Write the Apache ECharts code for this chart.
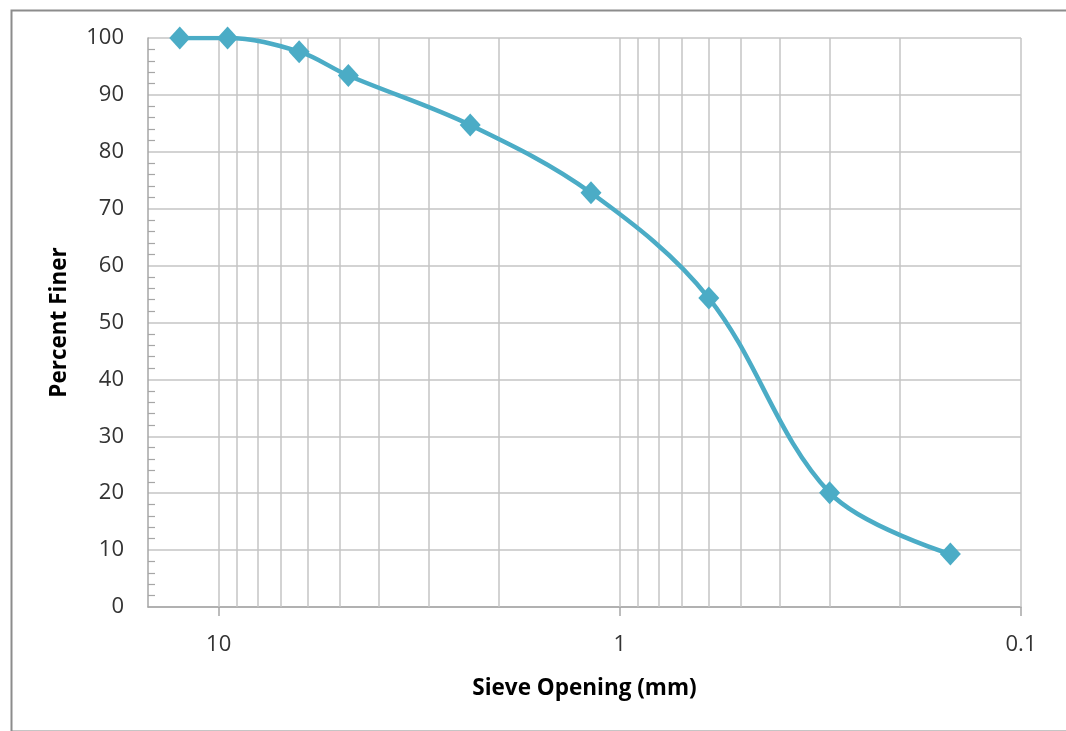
<!DOCTYPE html>
<html>
<head>
<meta charset="utf-8">
<script src="https://cdn.jsdelivr.net/npm/echarts@6/dist/echarts.min.js"></script>
<style>
html,body{margin:0;padding:0;background:#fff;}
#chart{width:1066px;height:731px;}
</style>
</head>
<body>
<div id="chart"></div>
<script>
// Sieve opening (mm) and percent finer
const sieveSizes = [12.5, 9.5, 6.3, 4.75, 2.36, 1.18, 0.6, 0.3, 0.15];
const percentFiner = [100, 100, 97.6, 93.4, 84.7, 72.8, 54.3, 20.1, 9.3];
const xMajorTicks = [0.1, 1, 10];
const xGridValues = [0.1,0.2,0.3,0.4,0.5,0.6,0.7,0.8,0.9,1,2,3,4,5,6,7,8,9,10];
const yTickLabels = [0,10,20,30,40,50,60,70,80,90,100];

const chart = echarts.init(document.getElementById('chart'));
const font = '"Open Sans", "Noto Sans", sans-serif';
const gridColor = '#c4c4c4';
const axisColor = '#a6a6a6';

chart.setOption({
  animation: false,
  backgroundColor: '#fff',
  graphic: [{
    type: 'rect', left: 9, top: 8, silent: true,
    shape: {width: 1080, height: 721},
    style: {fill: 'none', stroke: '#8c8c8c', lineWidth: 2}
  }],
  grid: {left: 148, right: 45, top: 38, bottom: 124, containLabel: false},
  xAxis: {
    type: 'log', logBase: 10, min: 0.1, max: 15, inverse: true,
    name: 'Sieve Opening (mm)', nameLocation: 'middle', nameGap: 70,
    nameTextStyle: {fontFamily: font, fontSize: 22.5, fontWeight: 'bold', color: '#000'},
    axisLine: {show: true, onZero: false, lineStyle: {color: axisColor, width: 1.5}},
    axisTick: {show: true, length: 9, customValues: xMajorTicks, lineStyle: {color: axisColor, width: 1.5}},
    axisLabel: {show: true, customValues: xMajorTicks, margin: 27, fontFamily: font, fontSize: 22, color: '#333',
      formatter: v => String(+v.toPrecision(6))},
    splitLine: {show: false},
    minorTick: {show: false}, minorSplitLine: {show: false}
  },
  yAxis: {
    type: 'value', min: 0, max: 100, interval: 10,
    name: 'Percent Finer', nameLocation: 'middle', nameGap: 77, nameRotate: 90,
    nameTextStyle: {fontFamily: font, fontSize: 22.5, fontWeight: 'bold', color: '#000'},
    axisLine: {show: true, lineStyle: {color: axisColor, width: 1.5}},
    axisTick: {show: false},
    minorTick: {show: true, splitNumber: 5, length: -7, lineStyle: {color: axisColor, width: 1.2}},
    axisLabel: {margin: 24, fontFamily: font, fontSize: 22, color: '#333',
      formatter: v => yTickLabels.indexOf(v) >= 0 ? String(v) : ''},
    splitLine: {show: true, lineStyle: {color: gridColor, width: 1.5}}
  },
  series: [
    {
      type: 'scatter', data: [], z: 1, silent: true,
      markLine: {
        silent: true, symbol: ['none', 'none'], animation: false,
        label: {show: false},
        lineStyle: {color: gridColor, width: 1.5, type: 'solid'},
        emphasis: {disabled: true},
        data: xGridValues.map(v => ({xAxis: v}))
      }
    },
    {
      type: 'line', z: 5,
      data: sieveSizes.map((s, i) => [s, percentFiner[i]]),
      smooth: 0.35,
      symbol: 'diamond', symbolSize: [21, 23],
      itemStyle: {color: '#4BACC6'},
      lineStyle: {color: '#4BACC6', width: 4.5}
    }
  ]
});
</script>
</body>
</html>
